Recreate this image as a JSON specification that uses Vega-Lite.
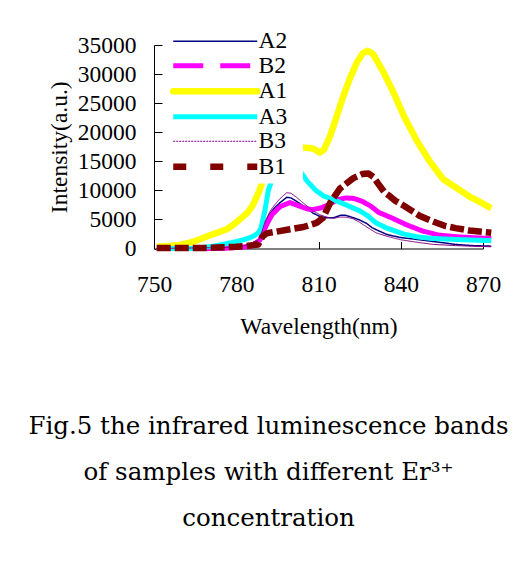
{
  "$schema": "https://vega.github.io/schema/vega-lite/v6.json",
  "width": 329,
  "height": 203.5,
  "autosize": "none",
  "padding": {"left": 154, "top": 45, "right": 34, "bottom": 336.5},
  "background": "white",
  "config": {"view": {"stroke": null}, "font": "Liberation Serif"},
  "title": {
    "text": ["Fig.5 the infrared luminescence bands", "of samples with different Er³⁺", "concentration"],
    "orient": "bottom", "anchor": "middle", "frame": "group", "offset": 77, "dx": -50,
    "font": "DejaVu Serif", "fontSize": 24.5, "fontWeight": "normal", "color": "black", "lineHeight": 46
  },
  "datasets": {
    "spectra": [
      {"series": "A2", "nm": 751, "intensity": 0}, {"series": "A2", "nm": 770, "intensity": 0}, {"series": "A2", "nm": 780, "intensity": 200}, {"series": "A2", "nm": 784, "intensity": 600}, {"series": "A2", "nm": 788.5, "intensity": 1500}, {"series": "A2", "nm": 790.5, "intensity": 4400}, {"series": "A2", "nm": 792.3, "intensity": 6000}, {"series": "A2", "nm": 794, "intensity": 7000}, {"series": "A2", "nm": 796, "intensity": 7900}, {"series": "A2", "nm": 798.4, "intensity": 8800}, {"series": "A2", "nm": 800, "intensity": 8700}, {"series": "A2", "nm": 802, "intensity": 8100}, {"series": "A2", "nm": 804.5, "intensity": 7300}, {"series": "A2", "nm": 808, "intensity": 6100}, {"series": "A2", "nm": 810.5, "intensity": 5500}, {"series": "A2", "nm": 813, "intensity": 5300}, {"series": "A2", "nm": 815.5, "intensity": 5300}, {"series": "A2", "nm": 818, "intensity": 5700}, {"series": "A2", "nm": 820, "intensity": 5700}, {"series": "A2", "nm": 822.7, "intensity": 5300}, {"series": "A2", "nm": 825, "intensity": 4900}, {"series": "A2", "nm": 827.6, "intensity": 4300}, {"series": "A2", "nm": 829.5, "intensity": 3600}, {"series": "A2", "nm": 831.2, "intensity": 3200}, {"series": "A2", "nm": 835, "intensity": 2400}, {"series": "A2", "nm": 839.7, "intensity": 1900}, {"series": "A2", "nm": 847, "intensity": 1500}, {"series": "A2", "nm": 852, "intensity": 1200}, {"series": "A2", "nm": 860, "intensity": 700}, {"series": "A2", "nm": 866, "intensity": 500}, {"series": "A2", "nm": 873, "intensity": 400},

      {"series": "B2", "nm": 751, "intensity": 0}, {"series": "B2", "nm": 775, "intensity": 0}, {"series": "B2", "nm": 783.8, "intensity": 300}, {"series": "B2", "nm": 786, "intensity": 500}, {"series": "B2", "nm": 788.7, "intensity": 1500}, {"series": "B2", "nm": 790, "intensity": 3000}, {"series": "B2", "nm": 791.5, "intensity": 4500}, {"series": "B2", "nm": 793, "intensity": 5800}, {"series": "B2", "nm": 796, "intensity": 7200}, {"series": "B2", "nm": 799.6, "intensity": 7900}, {"series": "B2", "nm": 803, "intensity": 7300}, {"series": "B2", "nm": 806, "intensity": 6800}, {"series": "B2", "nm": 808, "intensity": 6700}, {"series": "B2", "nm": 811, "intensity": 7000}, {"series": "B2", "nm": 814, "intensity": 7600}, {"series": "B2", "nm": 817, "intensity": 8400}, {"series": "B2", "nm": 820, "intensity": 8700}, {"series": "B2", "nm": 823, "intensity": 8600}, {"series": "B2", "nm": 826, "intensity": 8100}, {"series": "B2", "nm": 829, "intensity": 7300}, {"series": "B2", "nm": 832, "intensity": 6200}, {"series": "B2", "nm": 837, "intensity": 5200}, {"series": "B2", "nm": 842, "intensity": 4100}, {"series": "B2", "nm": 848, "intensity": 3000}, {"series": "B2", "nm": 854, "intensity": 2300}, {"series": "B2", "nm": 861, "intensity": 2000}, {"series": "B2", "nm": 873, "intensity": 1700},

      {"series": "A1", "nm": 751, "intensity": 300}, {"series": "A1", "nm": 755, "intensity": 400}, {"series": "A1", "nm": 759, "intensity": 600}, {"series": "A1", "nm": 763, "intensity": 1000}, {"series": "A1", "nm": 766, "intensity": 1450}, {"series": "A1", "nm": 770, "intensity": 2200}, {"series": "A1", "nm": 773, "intensity": 2700}, {"series": "A1", "nm": 776.5, "intensity": 3300}, {"series": "A1", "nm": 779, "intensity": 4100}, {"series": "A1", "nm": 781, "intensity": 4900}, {"series": "A1", "nm": 784, "intensity": 6100}, {"series": "A1", "nm": 786, "intensity": 7400}, {"series": "A1", "nm": 788.5, "intensity": 10000}, {"series": "A1", "nm": 791, "intensity": 13500}, {"series": "A1", "nm": 794, "intensity": 17000}, {"series": "A1", "nm": 797, "intensity": 18000}, {"series": "A1", "nm": 800, "intensity": 17800}, {"series": "A1", "nm": 803, "intensity": 17400}, {"series": "A1", "nm": 806, "intensity": 17300}, {"series": "A1", "nm": 808, "intensity": 17200}, {"series": "A1", "nm": 810.5, "intensity": 16500}, {"series": "A1", "nm": 812, "intensity": 17000}, {"series": "A1", "nm": 814.2, "intensity": 19300}, {"series": "A1", "nm": 816.7, "intensity": 22800}, {"series": "A1", "nm": 818.9, "intensity": 26000}, {"series": "A1", "nm": 821.5, "intensity": 29300}, {"series": "A1", "nm": 824, "intensity": 32000}, {"series": "A1", "nm": 826.2, "intensity": 33600}, {"series": "A1", "nm": 828, "intensity": 34000}, {"series": "A1", "nm": 830, "intensity": 33400}, {"series": "A1", "nm": 833.6, "intensity": 30400}, {"series": "A1", "nm": 837.3, "intensity": 26900}, {"series": "A1", "nm": 841, "intensity": 22900}, {"series": "A1", "nm": 845.8, "intensity": 18600}, {"series": "A1", "nm": 850.7, "intensity": 14900}, {"series": "A1", "nm": 855.5, "intensity": 11900}, {"series": "A1", "nm": 860.4, "intensity": 10400}, {"series": "A1", "nm": 865.2, "intensity": 8900}, {"series": "A1", "nm": 868.9, "intensity": 8000}, {"series": "A1", "nm": 873, "intensity": 6900},

      {"series": "A3", "nm": 751, "intensity": 0}, {"series": "A3", "nm": 765, "intensity": 0}, {"series": "A3", "nm": 771.6, "intensity": 400}, {"series": "A3", "nm": 776, "intensity": 800}, {"series": "A3", "nm": 780.2, "intensity": 1200}, {"series": "A3", "nm": 784, "intensity": 1700}, {"series": "A3", "nm": 786.2, "intensity": 2100}, {"series": "A3", "nm": 788, "intensity": 2700}, {"series": "A3", "nm": 789, "intensity": 3500}, {"series": "A3", "nm": 790.5, "intensity": 6600}, {"series": "A3", "nm": 791.7, "intensity": 10000}, {"series": "A3", "nm": 793, "intensity": 11800}, {"series": "A3", "nm": 795, "intensity": 14500}, {"series": "A3", "nm": 797, "intensity": 16000}, {"series": "A3", "nm": 799, "intensity": 15800}, {"series": "A3", "nm": 800.3, "intensity": 15400}, {"series": "A3", "nm": 803, "intensity": 13500}, {"series": "A3", "nm": 806, "intensity": 11500}, {"series": "A3", "nm": 809, "intensity": 10000}, {"series": "A3", "nm": 812, "intensity": 9000}, {"series": "A3", "nm": 816, "intensity": 8300}, {"series": "A3", "nm": 820, "intensity": 7500}, {"series": "A3", "nm": 825, "intensity": 6500}, {"series": "A3", "nm": 828, "intensity": 5600}, {"series": "A3", "nm": 831, "intensity": 4400}, {"series": "A3", "nm": 835, "intensity": 3500}, {"series": "A3", "nm": 841, "intensity": 2500}, {"series": "A3", "nm": 846, "intensity": 2000}, {"series": "A3", "nm": 851, "intensity": 1750}, {"series": "A3", "nm": 860, "intensity": 1550}, {"series": "A3", "nm": 873, "intensity": 1350},

      {"series": "B3", "nm": 751, "intensity": 0}, {"series": "B3", "nm": 780, "intensity": 200}, {"series": "B3", "nm": 784, "intensity": 600}, {"series": "B3", "nm": 788.5, "intensity": 1600}, {"series": "B3", "nm": 790.5, "intensity": 4600}, {"series": "B3", "nm": 792.3, "intensity": 6400}, {"series": "B3", "nm": 794, "intensity": 7500}, {"series": "B3", "nm": 796, "intensity": 8600}, {"series": "B3", "nm": 798.4, "intensity": 9600}, {"series": "B3", "nm": 800, "intensity": 9500}, {"series": "B3", "nm": 802, "intensity": 8800}, {"series": "B3", "nm": 804.5, "intensity": 7800}, {"series": "B3", "nm": 808, "intensity": 6500}, {"series": "B3", "nm": 810.5, "intensity": 5800}, {"series": "B3", "nm": 813, "intensity": 5400}, {"series": "B3", "nm": 815.5, "intensity": 5200}, {"series": "B3", "nm": 818, "intensity": 5400}, {"series": "B3", "nm": 820, "intensity": 5400}, {"series": "B3", "nm": 822.7, "intensity": 5100}, {"series": "B3", "nm": 825, "intensity": 4500}, {"series": "B3", "nm": 827.6, "intensity": 3700}, {"series": "B3", "nm": 831, "intensity": 2700}, {"series": "B3", "nm": 835, "intensity": 2100}, {"series": "B3", "nm": 840, "intensity": 1500}, {"series": "B3", "nm": 847, "intensity": 1000}, {"series": "B3", "nm": 852, "intensity": 700}, {"series": "B3", "nm": 860, "intensity": 500}, {"series": "B3", "nm": 866, "intensity": 400}, {"series": "B3", "nm": 873, "intensity": 300},

      {"series": "B1", "nm": 751, "intensity": 100}, {"series": "B1", "nm": 760, "intensity": 100}, {"series": "B1", "nm": 770, "intensity": 100}, {"series": "B1", "nm": 775, "intensity": 200}, {"series": "B1", "nm": 780, "intensity": 300}, {"series": "B1", "nm": 785, "intensity": 500}, {"series": "B1", "nm": 788, "intensity": 700}, {"series": "B1", "nm": 789.5, "intensity": 2000}, {"series": "B1", "nm": 791, "intensity": 2600}, {"series": "B1", "nm": 794.7, "intensity": 2900}, {"series": "B1", "nm": 799.6, "intensity": 3300}, {"series": "B1", "nm": 804.5, "intensity": 3700}, {"series": "B1", "nm": 809.3, "intensity": 4400}, {"series": "B1", "nm": 811.7, "intensity": 5300}, {"series": "B1", "nm": 814.2, "intensity": 7800}, {"series": "B1", "nm": 817.8, "intensity": 10300}, {"series": "B1", "nm": 822.7, "intensity": 12100}, {"series": "B1", "nm": 826, "intensity": 12800}, {"series": "B1", "nm": 828.2, "intensity": 12900}, {"series": "B1", "nm": 830, "intensity": 12300}, {"series": "B1", "nm": 832, "intensity": 11000}, {"series": "B1", "nm": 834, "intensity": 9700}, {"series": "B1", "nm": 836, "intensity": 9000}, {"series": "B1", "nm": 838, "intensity": 8200}, {"series": "B1", "nm": 841, "intensity": 7400}, {"series": "B1", "nm": 844, "intensity": 6500}, {"series": "B1", "nm": 847, "intensity": 5600}, {"series": "B1", "nm": 852, "intensity": 4600}, {"series": "B1", "nm": 856, "intensity": 3900}, {"series": "B1", "nm": 860, "intensity": 3500}, {"series": "B1", "nm": 865, "intensity": 3100}, {"series": "B1", "nm": 873, "intensity": 2700}
    ]
  },
  "data": {"name": "spectra"},
  "mark": {"type": "line", "clip": false, "strokeJoin": "round"},
  "encoding": {
    "x": {
      "field": "nm", "type": "quantitative",
      "scale": {"domain": [750, 870], "nice": false, "zero": false},
      "axis": {
        "values": [750, 780, 810, 840, 870], "format": "d", "title": "Wavelength(nm)", "grid": false,
        "tickSize": -7, "labelPadding": 31, "labelFont": "Liberation Serif", "labelFontSize": 23.5,
        "titleFont": "Liberation Serif", "titleFontSize": 23.5, "titleFontWeight": "normal", "titlePadding": 18,
        "domainColor": "black", "tickColor": "black", "labelColor": "black", "titleColor": "black",
        "labelFlush": false, "labelOverlap": false
      }
    },
    "y": {
      "field": "intensity", "type": "quantitative",
      "scale": {"domain": [0, 35000], "nice": false},
      "axis": {
        "values": [0, 5000, 10000, 15000, 20000, 25000, 30000, 35000], "format": "d", "title": "Intensity(a.u.)", "grid": false,
        "tickSize": -8, "labelPadding": 26, "labelFont": "Liberation Serif", "labelFontSize": 23.5,
        "titleFont": "Liberation Serif", "titleFontSize": 23.5, "titleFontWeight": "normal", "titlePadding": 6,
        "domainColor": "black", "tickColor": "black", "labelColor": "black", "titleColor": "black",
        "labelFlush": false, "labelOverlap": false
      }
    },
    "color": {
      "field": "series", "type": "nominal",
      "scale": {"domain": ["A2", "B2", "A1", "A3", "B3", "B1"], "range": ["#000080", "#FF00FF", "#FFFF00", "#00FFFF", "#800080", "#800000"]},
      "legend": {
        "orient": "none", "legendX": 15, "legendY": -18.5, "title": null, "fillColor": "white", "padding": 3, "zindex": 1,
        "labelFont": "Liberation Serif", "labelFontSize": 23.5, "labelColor": "black",
        "symbolType": "M-1,0H7M9.8,0", "symbolSize": 441, "labelOffset": 63, "rowPadding": -0.5,
        "encode": {
          "symbols": {
            "update": {
              "strokeWidth": {"signal": "datum.value==='A1'||datum.value==='B1' ? 6.5 : (datum.value==='B2'||datum.value==='A3' ? 5 : (datum.value==='B3' ? 1 : 1.5))"},
              "strokeDash": {"signal": "datum.value==='B2' ? [30,17] : (datum.value==='B1' ? [13,24] : (datum.value==='B3' ? [2,1] : [1,0]))"},
              "strokeCap": {"signal": "datum.value==='A1' ? 'round' : 'butt'"}
            }
          }
        }
      }
    },
    "strokeWidth": {
      "condition": [
        {"test": "datum.series==='A1'", "value": 6.5},
        {"test": "datum.series==='B1'", "value": 6.5},
        {"test": "datum.series==='B2'", "value": 5},
        {"test": "datum.series==='A3'", "value": 5},
        {"test": "datum.series==='B3'", "value": 1}
      ],
      "value": 1.5
    },
    "strokeDash": {
      "condition": {"test": "datum.series==='B1'", "value": [14, 4]},
      "value": [1, 0]
    }
  }
}
